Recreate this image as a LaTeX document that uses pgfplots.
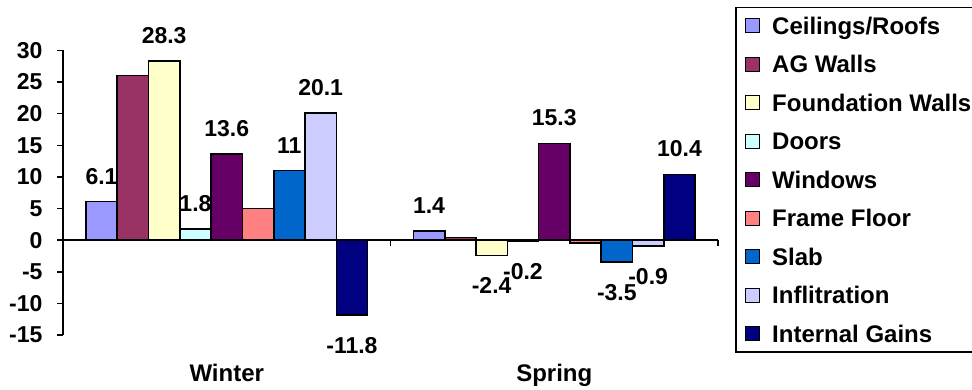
\documentclass[border=0pt]{standalone}
\usepackage{fontspec}
\setmainfont{Liberation Sans}
\usepackage{pgfplots}
\pgfplotsset{compat=1.18}
\definecolor{cCeil}{HTML}{9999FF}
\definecolor{cAG}{HTML}{993366}
\definecolor{cFound}{HTML}{FFFFCC}
\definecolor{cDoors}{HTML}{CCFFFF}
\definecolor{cWin}{HTML}{660066}
\definecolor{cFrame}{HTML}{FF8080}
\definecolor{cSlab}{HTML}{0066CC}
\definecolor{cInf}{HTML}{CCCCFF}
\definecolor{cIG}{HTML}{000080}
\begin{document}
\begin{tikzpicture}
\useasboundingbox (0,0) rectangle (972pt,390pt);
\begin{axis}[
  at={(63pt,55pt)}, anchor=south west,
  scale only axis, width=655pt, height=284.6pt,
  xmin=-0.5, xmax=1.5, ymin=-15, ymax=30,
  clip=false,
  ybar=0pt, bar width=31.3pt,
  axis x line*=bottom, axis y line*=left,
  x axis line style={draw=none},
  y axis line style={line width=1.5pt},
  xtick={0,1}, xticklabels={Winter,Spring},
  x tick style={draw=none},
  xticklabel style={font=\fontsize{24}{28}\selectfont\bfseries, yshift=-20pt},
  ytick={-15,-10,...,30},
  ytick align=outside, major tick length=6pt,
  y tick style={line width=1.5pt, black},
  yticklabel={\fontsize{23}{26}\selectfont\bfseries\pgfmathprintnumber{\tick}},
  yticklabel style={xshift=-11pt},
  /pgf/number format/assume math mode=true,
  every axis plot/.append style={draw=black, line width=1.6pt},
  nodes near coords,
  visualization depends on={rawy \as \rawy},
  every node near coord/.append style={font=\fontsize{23}{27}\selectfont\bfseries, inner ysep=16.5pt, text=black, yshift={(\rawy<0 ? -5 : 0)}},
  legend style={at={(rel axis cs:1.026,1.1525)}, anchor=north west, draw=black, line width=1.5pt,
    font=\fontsize{24}{28}\selectfont\bfseries,
    inner xsep=9pt, inner ysep=6.5pt,
    nodes={inner sep=0pt, text height=20pt, text depth=3pt},
    row sep=15.5pt, column sep=12pt},
  legend cell align=left,
  legend image code/.code={\draw[#1, line width=1.4pt] (0pt,-7pt) rectangle (14pt,7pt);},
]
\addplot[fill=cCeil] coordinates {(0,6.1) (1,1.4)};
\addplot[fill=cAG, nodes near coords=] coordinates {(0,26) (1,0.4)};
\addplot[fill=cFound] coordinates {(0,28.3) (1,-2.4)};
\addplot[fill=cDoors] coordinates {(0,1.8) (1,-0.2)};
\addplot[fill=cWin] coordinates {(0,13.6) (1,15.3)};
\addplot[fill=cFrame, nodes near coords=] coordinates {(0,5) (1,-0.5)};
\addplot[fill=cSlab] coordinates {(0,11) (1,-3.5)};
\addplot[fill=cInf] coordinates {(0,20.1) (1,-0.9)};
\addplot[fill=cIG] coordinates {(0,-11.8) (1,10.4)};
\legend{Ceilings/Roofs, AG Walls, Foundation Walls, Doors, Windows, Frame Floor, Slab, Inflitration, Internal Gains}
\draw[line width=1.5pt] (axis cs:-0.5,0) -- (axis cs:1.5,0);
\draw[line width=1.5pt] (axis cs:0.5,0) -- ([yshift=-6pt]axis cs:0.5,0);
\draw[line width=1.5pt] (axis cs:1.5,0) -- ([yshift=-6pt]axis cs:1.5,0);
\end{axis}
\end{tikzpicture}
\end{document}
